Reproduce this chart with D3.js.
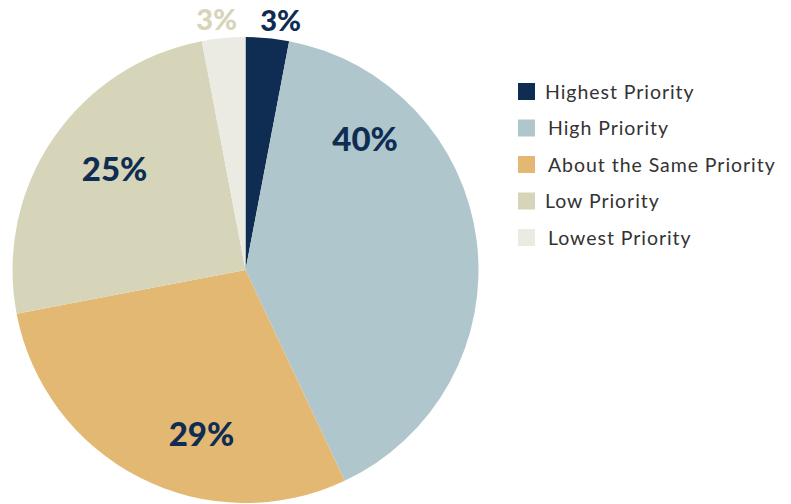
<!DOCTYPE html>
<html>
<head>
<meta charset="utf-8">
<script src="https://cdn.jsdelivr.net/npm/d3@7"></script>
<style>
  html, body { margin: 0; padding: 0; background: #ffffff; }
  svg { display: block; }
</style>
</head>
<body>
<svg id="chart" width="791" height="504"></svg>
<script>
// Survey responses by priority level
const categories = ["Highest Priority", "High Priority", "About the Same Priority", "Low Priority", "Lowest Priority"];
const shares = [3, 40, 29, 25, 3];
const sliceColors = ["#0f2c52", "#b0c6cd", "#e3b873", "#d7d5b9", "#ebebe3"];
const labelColors = ["#0f2c52", "#0f2c52", "#0f2c52", "#0f2c52", "#d7d5b9"];

// Label anchor placement per slice: angle (degrees clockwise from 12 o'clock), radius, font size
const labelPlacement = [
  { angle: 8, r: 252, size: 29 },
  { angle: 42.5, r: 177, size: 33 },
  { angle: 195, r: 170, size: 33 },
  { angle: 307.5, r: 165, size: 33 },
  { angle: -6.6, r: 252, size: 29 }
];

const data = categories.map((c, i) => ({ category: c, value: shares[i] }));

const svg = d3.select("#chart");
const cx = 245.5, cy = 270, radius = 233;

const pie = d3.pie().value(d => d.value).sort(null);
const arc = d3.arc().innerRadius(0).outerRadius(radius);
const color = d3.scaleOrdinal().domain(categories).range(sliceColors);

const g = svg.append("g").attr("transform", `translate(${cx},${cy})`);

const arcs = pie(data);

g.selectAll("path.slice")
  .data(arcs)
  .enter().append("path")
  .attr("class", "slice")
  .attr("d", arc)
  .attr("fill", d => color(d.data.category));

g.selectAll("text.value")
  .data(arcs)
  .enter().append("text")
  .attr("class", "value")
  .attr("x", (d, i) => labelPlacement[i].r * Math.sin(labelPlacement[i].angle * Math.PI / 180))
  .attr("y", (d, i) => -labelPlacement[i].r * Math.cos(labelPlacement[i].angle * Math.PI / 180))
  .attr("dy", "0.36em")
  .attr("text-anchor", "middle")
  .attr("font-family", "Lato, 'Open Sans', sans-serif")
  .attr("font-weight", 900)
  .attr("font-size", (d, i) => labelPlacement[i].size)
  .attr("fill", (d, i) => labelColors[i])
  .text(d => d.data.value + "%");

// Legend
const legend = svg.append("g").attr("transform", "translate(518, 83)");
const rowStep = 36.5;
const textOffsets = [27, 30, 30, 27, 30];

const rows = legend.selectAll("g.row")
  .data(categories)
  .enter().append("g")
  .attr("class", "row")
  .attr("transform", (d, i) => `translate(0, ${i * rowStep})`);

rows.append("rect")
  .attr("width", 17)
  .attr("height", 17)
  .attr("fill", d => color(d));

rows.append("text")
  .attr("x", (d, i) => textOffsets[i])
  .attr("y", 8.5)
  .attr("dy", "0.36em")
  .attr("font-family", "Lato, 'Open Sans', sans-serif")
  .attr("font-size", 19.5)
  .attr("letter-spacing", 0.95)
  .attr("fill", "#333333")
  .text(d => d);
</script>
</body>
</html>
